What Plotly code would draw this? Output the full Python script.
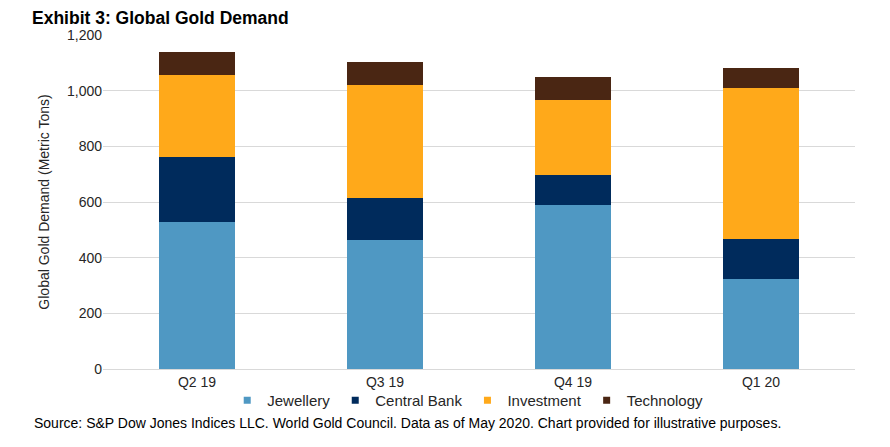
import plotly.graph_objects as go

quarters = ["Q2 19", "Q3 19", "Q4 19", "Q1 20"]
jewellery = [527, 465, 588, 322]
central_bank = [235, 150, 108, 146]
investment = [294, 405, 272, 542]
technology = [83, 83, 82, 70]

series = [
    ("Jewellery", jewellery, "#4F98C3"),
    ("Central Bank", central_bank, "#002B5C"),
    ("Investment", investment, "#FFA91A"),
    ("Technology", technology, "#4A2613"),
]

FONT = "Liberation Sans, Arial, sans-serif"

fig = go.Figure()
for name, vals, color in series:
    fig.add_trace(go.Bar(x=quarters, y=vals, name=name, marker_color=color,
                         marker_line_width=0, showlegend=False))
for name, vals, color in series:
    fig.add_trace(go.Scatter(x=[None], y=[None], mode="markers", name=name,
                             marker=dict(symbol="square", size=7, color=color)))

fig.update_layout(
    width=890, height=447,
    barmode="stack", bargap=0.6,
    plot_bgcolor="white", paper_bgcolor="white",
    margin=dict(l=103, r=35, t=35, b=78),
    font=dict(family=FONT, size=14, color="#262626"),
    title=dict(text="<b>Exhibit 3: Global Gold Demand</b>", x=32/890, xref="container",
               xanchor="left", y=1-18/447, yref="container", yanchor="middle",
               font=dict(size=17.5, color="black")),
    legend=dict(orientation="h", traceorder="normal", x=0.485, xanchor="center",
                y=-0.045, yanchor="top", font=dict(size=15), itemwidth=30,
                tracegroupgap=0, bgcolor="rgba(0,0,0,0)"),
)
fig.update_xaxes(showline=True, linecolor="#D9D9D9", linewidth=1, ticks="",
                 tickfont=dict(size=14))
fig.update_yaxes(range=[0, 1200], dtick=200, tickformat=",", showgrid=True,
                 gridcolor="#D9D9D9", gridwidth=1, zeroline=False, ticks="",
                 ticklen=0, tickfont=dict(size=14),
                 title=dict(text="Global Gold Demand (Metric Tons)", font=dict(size=14),
                            standoff=14))
fig.add_annotation(text="Source: S&P Dow Jones Indices LLC. World Gold Council. Data as of May 2020. Chart provided for illustrative purposes.",
                   xref="paper", yref="paper", x=-71/752, y=-54/334, xanchor="left",
                   yanchor="middle", showarrow=False, font=dict(size=14, color="black"))

fig.write_html("out.html", config={"displayModeBar": False},
               post_script="document.body.style.margin='0';")
